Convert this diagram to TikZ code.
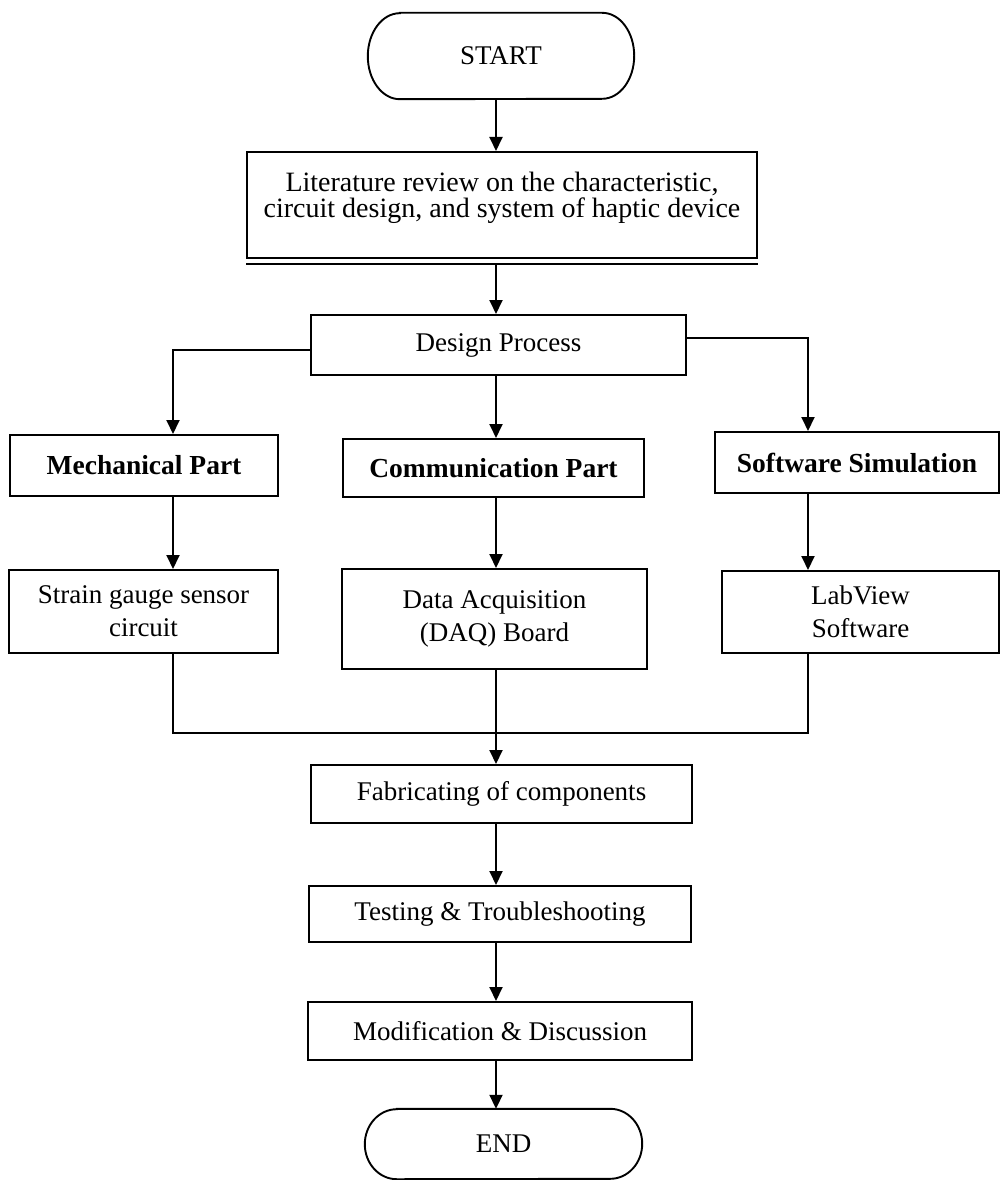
\documentclass[tikz,border=0pt]{standalone}
\usepackage{fontspec}
\setmainfont{Liberation Serif}
\usetikzlibrary{arrows.meta,calc}
\tikzset{
  box/.style={draw, line width=2pt, inner sep=0pt, align=center, font=\fontsize{27}{33}\selectfont},
  bbox/.style={box, font=\fontsize{27.5}{33}\selectfont\bfseries},
  term/.style={inner sep=0pt, font=\fontsize{27}{33}\selectfont},
  txt/.style={inner sep=0pt, align=center, font=\fontsize{28}{26}\selectfont},
  conn/.style={line width=1.9pt},
  arr/.style={conn, -{Triangle[width=13pt,length=14pt]}},
}
\newcommand{\drawterm}[2]{%
  \draw[line width=1.9pt] ([xshift=32pt]#1.north west) -- ([xshift=-32pt]#1.north east)
    arc[start angle=90, end angle=-90, x radius=32pt, y radius=#2]
    -- ([xshift=32pt]#1.south west)
    arc[start angle=270, end angle=90, x radius=32pt, y radius=#2] -- cycle;}
\begin{document}
\begin{tikzpicture}[x=1pt,y=-1pt]
\useasboundingbox (0,0) rectangle (1001,1180);
\coordinate (cx) at (496,0);
\coordinate (mx) at (173,0);
\coordinate (sx) at (808,0);
\coordinate (merge) at (496,733);

\node[term, minimum width=266pt, minimum height=86pt] (start) at (501,56) {START};
\drawterm{start}{43pt}
\node[box, minimum width=510pt, minimum height=106pt] (lit) at (502,205) {};
\node[txt] (littext) at (502,198) {Literature review on the characteristic,\\circuit design, and system of haptic device};
\draw[line width=1.2pt] ([yshift=-5pt]lit.south west) -- ([yshift=-5pt]lit.south east);
\node[box, minimum width=375pt, minimum height=60pt] (design) at (498.5,345) {Design Process};
\node[bbox, minimum width=268pt, minimum height=61pt] (mech) at (144,465.5) {Mechanical Part};
\node[bbox, minimum width=301pt, minimum height=58pt] (comm) at (493.5,468) {Communication Part};
\node[bbox, minimum width=284pt, minimum height=61pt] (soft) at (857,462.5) {Software Simulation};
\node[box, minimum width=269pt, minimum height=83pt] (strain) at (143.5,611.5) {Strain gauge sensor\\circuit};
\node[box, minimum width=305pt, minimum height=100pt] (daq) at (494.5,619) {Data Acquisition\\(DAQ) Board};
\node[box, minimum width=277pt, minimum height=82pt] (lab) at (860.5,612) {LabView\\Software};
\node[box, minimum width=381pt, minimum height=58pt] (fab) at (501.5,794) {Fabricating of components};
\node[box, minimum width=382pt, minimum height=56pt] (test) at (500,914) {Testing \& Troubleshooting};
\node[box, minimum width=384pt, minimum height=58pt] (mod) at (500,1031) {Modification \& Discussion};
\node[term, minimum width=277pt, minimum height=70pt] (end) at (503.5,1144) {END};
\drawterm{end}{35pt}

\draw[arr] (start.south -| cx) -- (lit.north -| cx);
\draw[arr] ([yshift=-5pt]lit.south -| cx) -- (design.north -| cx);
\draw[arr] ([yshift=-5pt]design.west) -| (mech.north -| mx);
\draw[arr] (design.south -| cx) -- (comm.north -| cx);
\draw[arr] ([yshift=7pt]design.east) -| (soft.north -| sx);
\draw[arr] (mech.south -| mx) -- (strain.north -| mx);
\draw[arr] (comm.south -| cx) -- (daq.north -| cx);
\draw[arr] (soft.south -| sx) -- (lab.north -| sx);
\draw[conn] (strain.south -| mx) |- (merge) -| (lab.south -| sx);
\draw[arr] (daq.south -| cx) -- (fab.north -| cx);
\draw[arr] (fab.south -| cx) -- (test.north -| cx);
\draw[arr] (test.south -| cx) -- (mod.north -| cx);
\draw[arr] (mod.south -| cx) -- (end.north -| cx);
\end{tikzpicture}
\end{document}
